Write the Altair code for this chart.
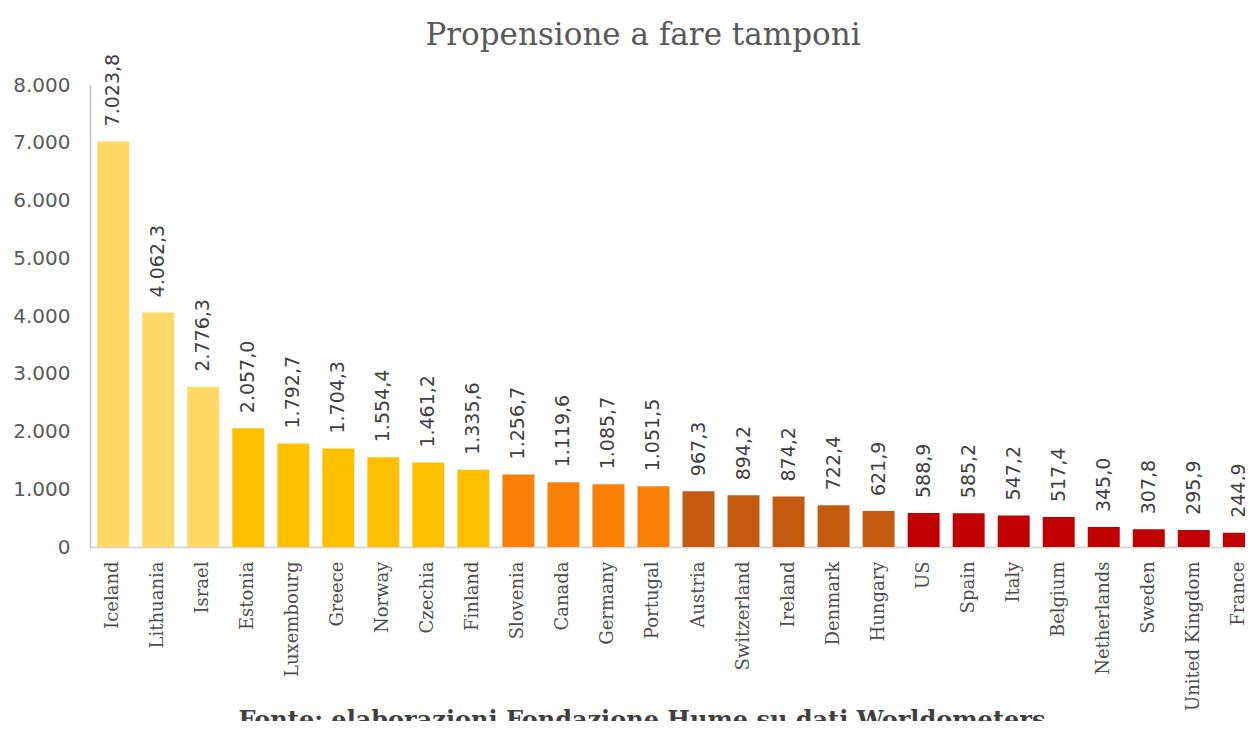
import altair as alt
import pandas as pd

countries = ["Iceland", "Lithuania", "Israel", "Estonia", "Luxembourg", "Greece", "Norway",
             "Czechia", "Finland", "Slovenia", "Canada", "Germany", "Portugal", "Austria",
             "Switzerland", "Ireland", "Denmark", "Hungary", "US", "Spain", "Italy", "Belgium",
             "Netherlands", "Sweden", "United Kingdom", "France"]
values = [7023.8, 4062.3, 2776.3, 2057.0, 1792.7, 1704.3, 1554.4, 1461.2, 1335.6, 1256.7,
          1119.6, 1085.7, 1051.5, 967.3, 894.2, 874.2, 722.4, 621.9, 588.9, 585.2, 547.2,
          517.4, 345.0, 307.8, 295.9, 244.9]
groups = ["g1"] * 3 + ["g2"] * 6 + ["g3"] * 4 + ["g4"] * 5 + ["g5"] * 8
group_names = ["g1", "g2", "g3", "g4", "g5"]
group_colors = ["#FFD966", "#FFC000", "#FA8008", "#C55A11", "#C00000"]
y_ticks = [0, 1000, 2000, 3000, 4000, 5000, 6000, 7000, 8000]
title_text = "Propensione a fare tamponi"
source_text = "Fonte: elaborazioni Fondazione Hume su dati Worldometers"


def it_fmt(v):
    s = f"{v:,.1f}"
    return s.replace(",", "#").replace(".", ",").replace("#", ".")


df = pd.DataFrame({
    "country": countries,
    "value": values,
    "group": groups,
    "label": [it_fmt(v) for v in values],
})

x_enc = alt.X(
    "country:N", sort=countries,
    scale=alt.Scale(range=[0, 1172], paddingInner=0.29, paddingOuter=0.16),
    axis=alt.Axis(title=None, labelAngle=270, labelFont="DejaVu Serif", labelFontSize=18,
                  labelColor="#4D4D4D", ticks=False, labelPadding=14,
                  domainColor="#D9D9D9", domainWidth=2),
)
y_enc = alt.Y(
    "value:Q", scale=alt.Scale(domain=[0, 8000]),
    axis=alt.Axis(title=None, values=y_ticks, grid=False, ticks=False,
                  labelExpr="replace(format(datum.value, ','), ',', '.')",
                  labelFont="DejaVu Sans", labelFontSize=20, labelColor="#595959",
                  labelPadding=20, domainColor="#BFBFBF", domainWidth=1.5),
)

base = alt.Chart(df).encode(x=x_enc)

bars = base.mark_bar().encode(
    y=y_enc,
    color=alt.Color("group:N", scale=alt.Scale(domain=group_names, range=group_colors), legend=None),
)

labels = base.mark_text(angle=270, align="left", baseline="middle", dx=15,
                        font="DejaVu Sans", fontSize=19, color="#404040").encode(
    y=alt.Y("value:Q"), text="label:N")

title = alt.Chart(pd.DataFrame({"t": [title_text]})).mark_text(
    font="DejaVu Serif", fontSize=31, color="#595959", align="center", baseline="alphabetic"
).encode(text="t:N", x=alt.value(553), y=alt.value(-40))

source = alt.Chart(pd.DataFrame({"t": [source_text]})).mark_text(
    font="DejaVu Serif", fontSize=24, fontWeight="bold", color="#404040", align="center", baseline="top"
).encode(text="t:N", x=alt.value(552), y=alt.value(624))

chart = alt.layer(bars, labels, title, source).properties(
    width=1155, height=462,
    autosize=alt.AutoSizeParams(type="none"),
    padding={"left": 82, "top": 77, "right": 0, "bottom": 174},
).configure_view(strokeWidth=0)

chart.save("out.html", embed_options={"renderer": "svg", "actions": False})
